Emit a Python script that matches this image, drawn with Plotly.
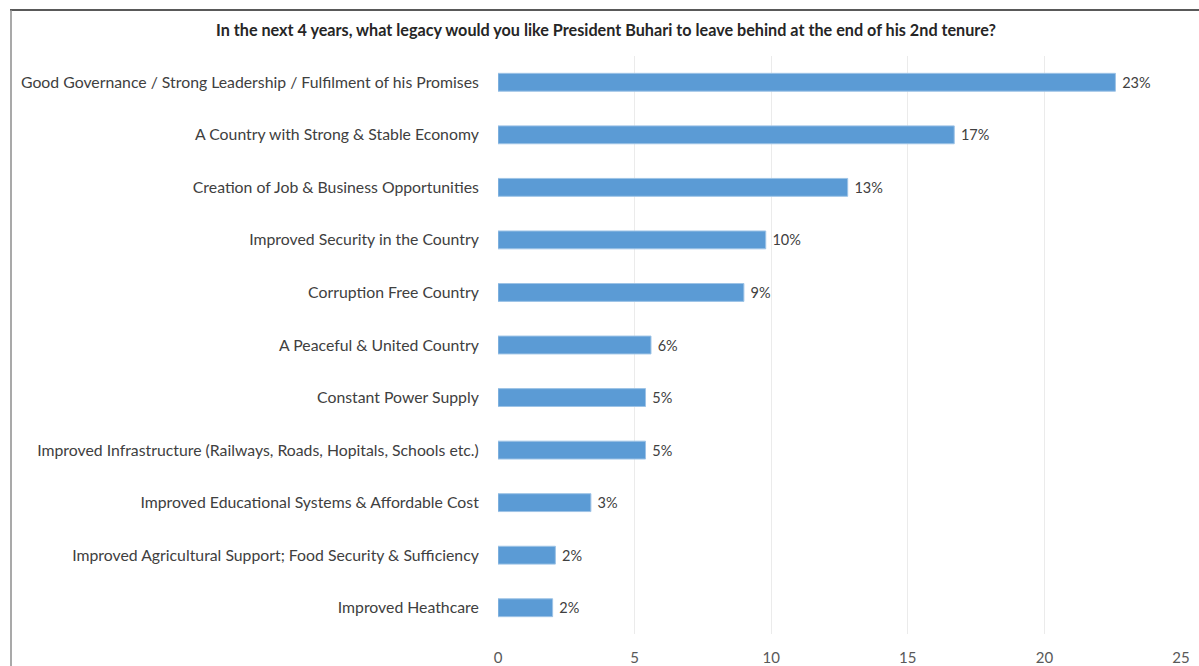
import plotly.graph_objects as go

categories = [
    "Good Governance / Strong Leadership / Fulfilment of his Promises",
    "A Country with Strong & Stable Economy",
    "Creation of Job & Business Opportunities",
    "Improved Security in the Country",
    "Corruption Free Country",
    "A Peaceful & United Country",
    "Constant Power Supply",
    "Improved Infrastructure (Railways, Roads, Hopitals, Schools etc.)",
    "Improved Educational Systems & Affordable Cost",
    "Improved Agricultural Support; Food Security & Sufficiency",
    "Improved Heathcare",
]
values = [22.6, 16.7, 12.8, 9.8, 9.0, 5.6, 5.4, 5.4, 3.4, 2.1, 2.0]
x_ticks = [0, 5, 10, 15, 20, 25]

title_text = "In the next 4 years, what legacy would you like President Buhari to leave behind at the end of his 2nd tenure?"

FONT = "Lato"
W, H = 1199, 666
L, R, T, B = 498, 18, 56, 32
pw = W - L - R
ph = H - T - B

def px(x):
    return (x - L) / pw

def py(y):
    return 1 - (y - T) / ph

fig = go.Figure()
fig.add_trace(go.Bar(
    x=values,
    y=categories,
    orientation="h",
    marker=dict(color="#5B9BD5", line=dict(color="#9DC3E6", width=1)),
    texttemplate=" %{x:.0f}%",
    textposition="outside",
    textfont=dict(family=FONT, size=14.5, color="#404040"),
    cliponaxis=False,
    width=0.34,
))

fig.update_layout(
    width=W, height=H,
    margin=dict(l=L, r=R, t=T, b=B, pad=0),
    paper_bgcolor="white",
    plot_bgcolor="white",
    showlegend=False,
    font=dict(family=FONT, color="#404040"),
    xaxis=dict(
        range=[0, 25],
        tickvals=x_ticks,
        automargin=False,
        showgrid=True,
        gridcolor="#EBEBEB",
        gridwidth=1,
        zeroline=False,
        showline=False,
        ticks="outside",
        ticklen=10,
        tickcolor="rgba(0,0,0,0)",
        tickfont=dict(family=FONT, size=15, color="#595959"),
    ),
    yaxis=dict(
        autorange="reversed",
        categoryorder="array",
        categoryarray=categories,
        automargin=False,
        showgrid=False,
        zeroline=False,
        showline=False,
        ticks="outside",
        ticklen=15,
        tickcolor="rgba(0,0,0,0)",
        tickfont=dict(family=FONT, size=15.8, color="#404040"),
    ),
)

# chart title
fig.add_annotation(
    text="<b>" + title_text + "</b>",
    xref="paper", yref="paper",
    x=px(606), y=py(30),
    xanchor="center", yanchor="middle",
    showarrow=False,
    font=dict(family=FONT, size=16.2, color="#262626"),
)

# frame around the chart
fig.add_shape(type="line", xref="paper", yref="paper",
              x0=px(10), x1=px(1199), y0=py(10), y1=py(10),
              line=dict(color="#595959", width=2))
fig.add_shape(type="line", xref="paper", yref="paper",
              x0=px(11), x1=px(11), y0=py(10), y1=py(666),
              line=dict(color="#8C8C8C", width=1.5))

fig.write_html("out.html")
